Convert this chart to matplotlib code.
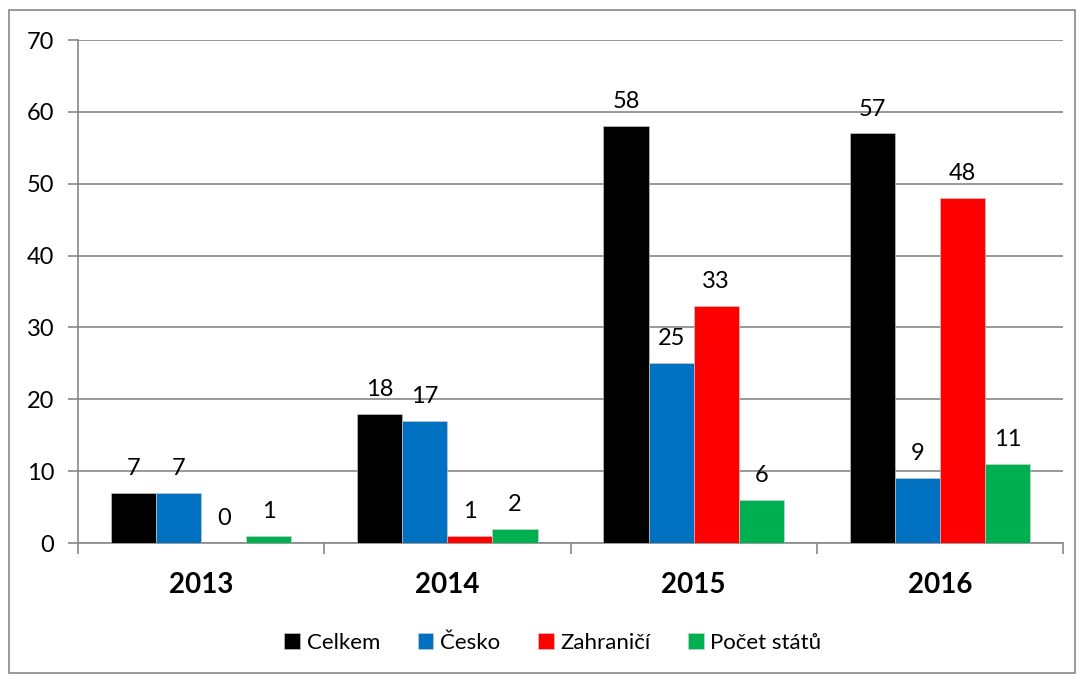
import matplotlib
matplotlib.use("Agg")
import matplotlib.pyplot as plt
import numpy as np
from matplotlib.patches import Rectangle

years    = ["2013", "2014", "2015", "2016"]
celkem   = [7, 18, 58, 57]
cesko    = [7, 17, 25, 9]
zahranici = [0, 1, 33, 48]
pocet    = [1, 2, 6, 11]

series = [("Celkem", celkem, "#000000"),
          ("Česko", cesko, "#0070C0"),
          ("Zahraničí", zahranici, "#FF0000"),
          ("Počet států", pocet, "#00B050")]

plt.rcParams["font.family"] = ["Lato", "DejaVu Sans"]
GRID = "#878787"

fig = plt.figure(figsize=(10.79, 6.77), dpi=100)
ax = fig.add_axes([78/1079, 1 - 543/677, (1063 - 78)/1079, (543 - 40)/677])

x, w = np.arange(len(years)), 0.183
for i, (name, vals, col) in enumerate(series):
    xs = x + (i - 1.5) * w
    ax.bar(xs, vals, w, color=col, label=name, edgecolor="#d0d0d0", lw=0.4, zorder=3)
    for xi, v in zip(xs, vals):
        ax.annotate(str(v), (xi, v), xytext=(0, 10), textcoords="offset points",
                    ha="center", va="bottom", fontsize=17)

ax.set_xlim(-0.5, len(years) - 0.5)
ax.set_ylim(0, 70)
ax.set_yticks(range(0, 71, 10))
ax.tick_params(axis="y", labelsize=17, length=7, color=GRID, width=1.2, pad=10)
ax.set_xticks(x)
ax.set_xticklabels(years, fontsize=20, fontweight="bold")
ax.set_xticks(np.arange(-0.5, len(years)), minor=True)
ax.tick_params(axis="x", which="major", length=0, pad=21)
ax.tick_params(axis="x", which="minor", length=8, color=GRID, width=1.2)
ax.grid(axis="y", color=GRID, lw=1.2, zorder=0)
for s in ("top", "right"):
    ax.spines[s].set_visible(False)
for s in ("left", "bottom"):
    ax.spines[s].set_color(GRID); ax.spines[s].set_linewidth(1.2)

fig.legend(loc="center", bbox_to_anchor=(553/1079, 1 - 643/677), ncol=4, frameon=False,
           fontsize=16, handlelength=0.7, handleheight=0.7, handletextpad=0.3,
           columnspacing=1.7)
fig.patches.append(Rectangle((9/1079, 4/677), 1066/1079, 663/677, transform=fig.transFigure,
                             fill=False, edgecolor=GRID, lw=1.2))
fig.savefig("out.png", dpi=100)
